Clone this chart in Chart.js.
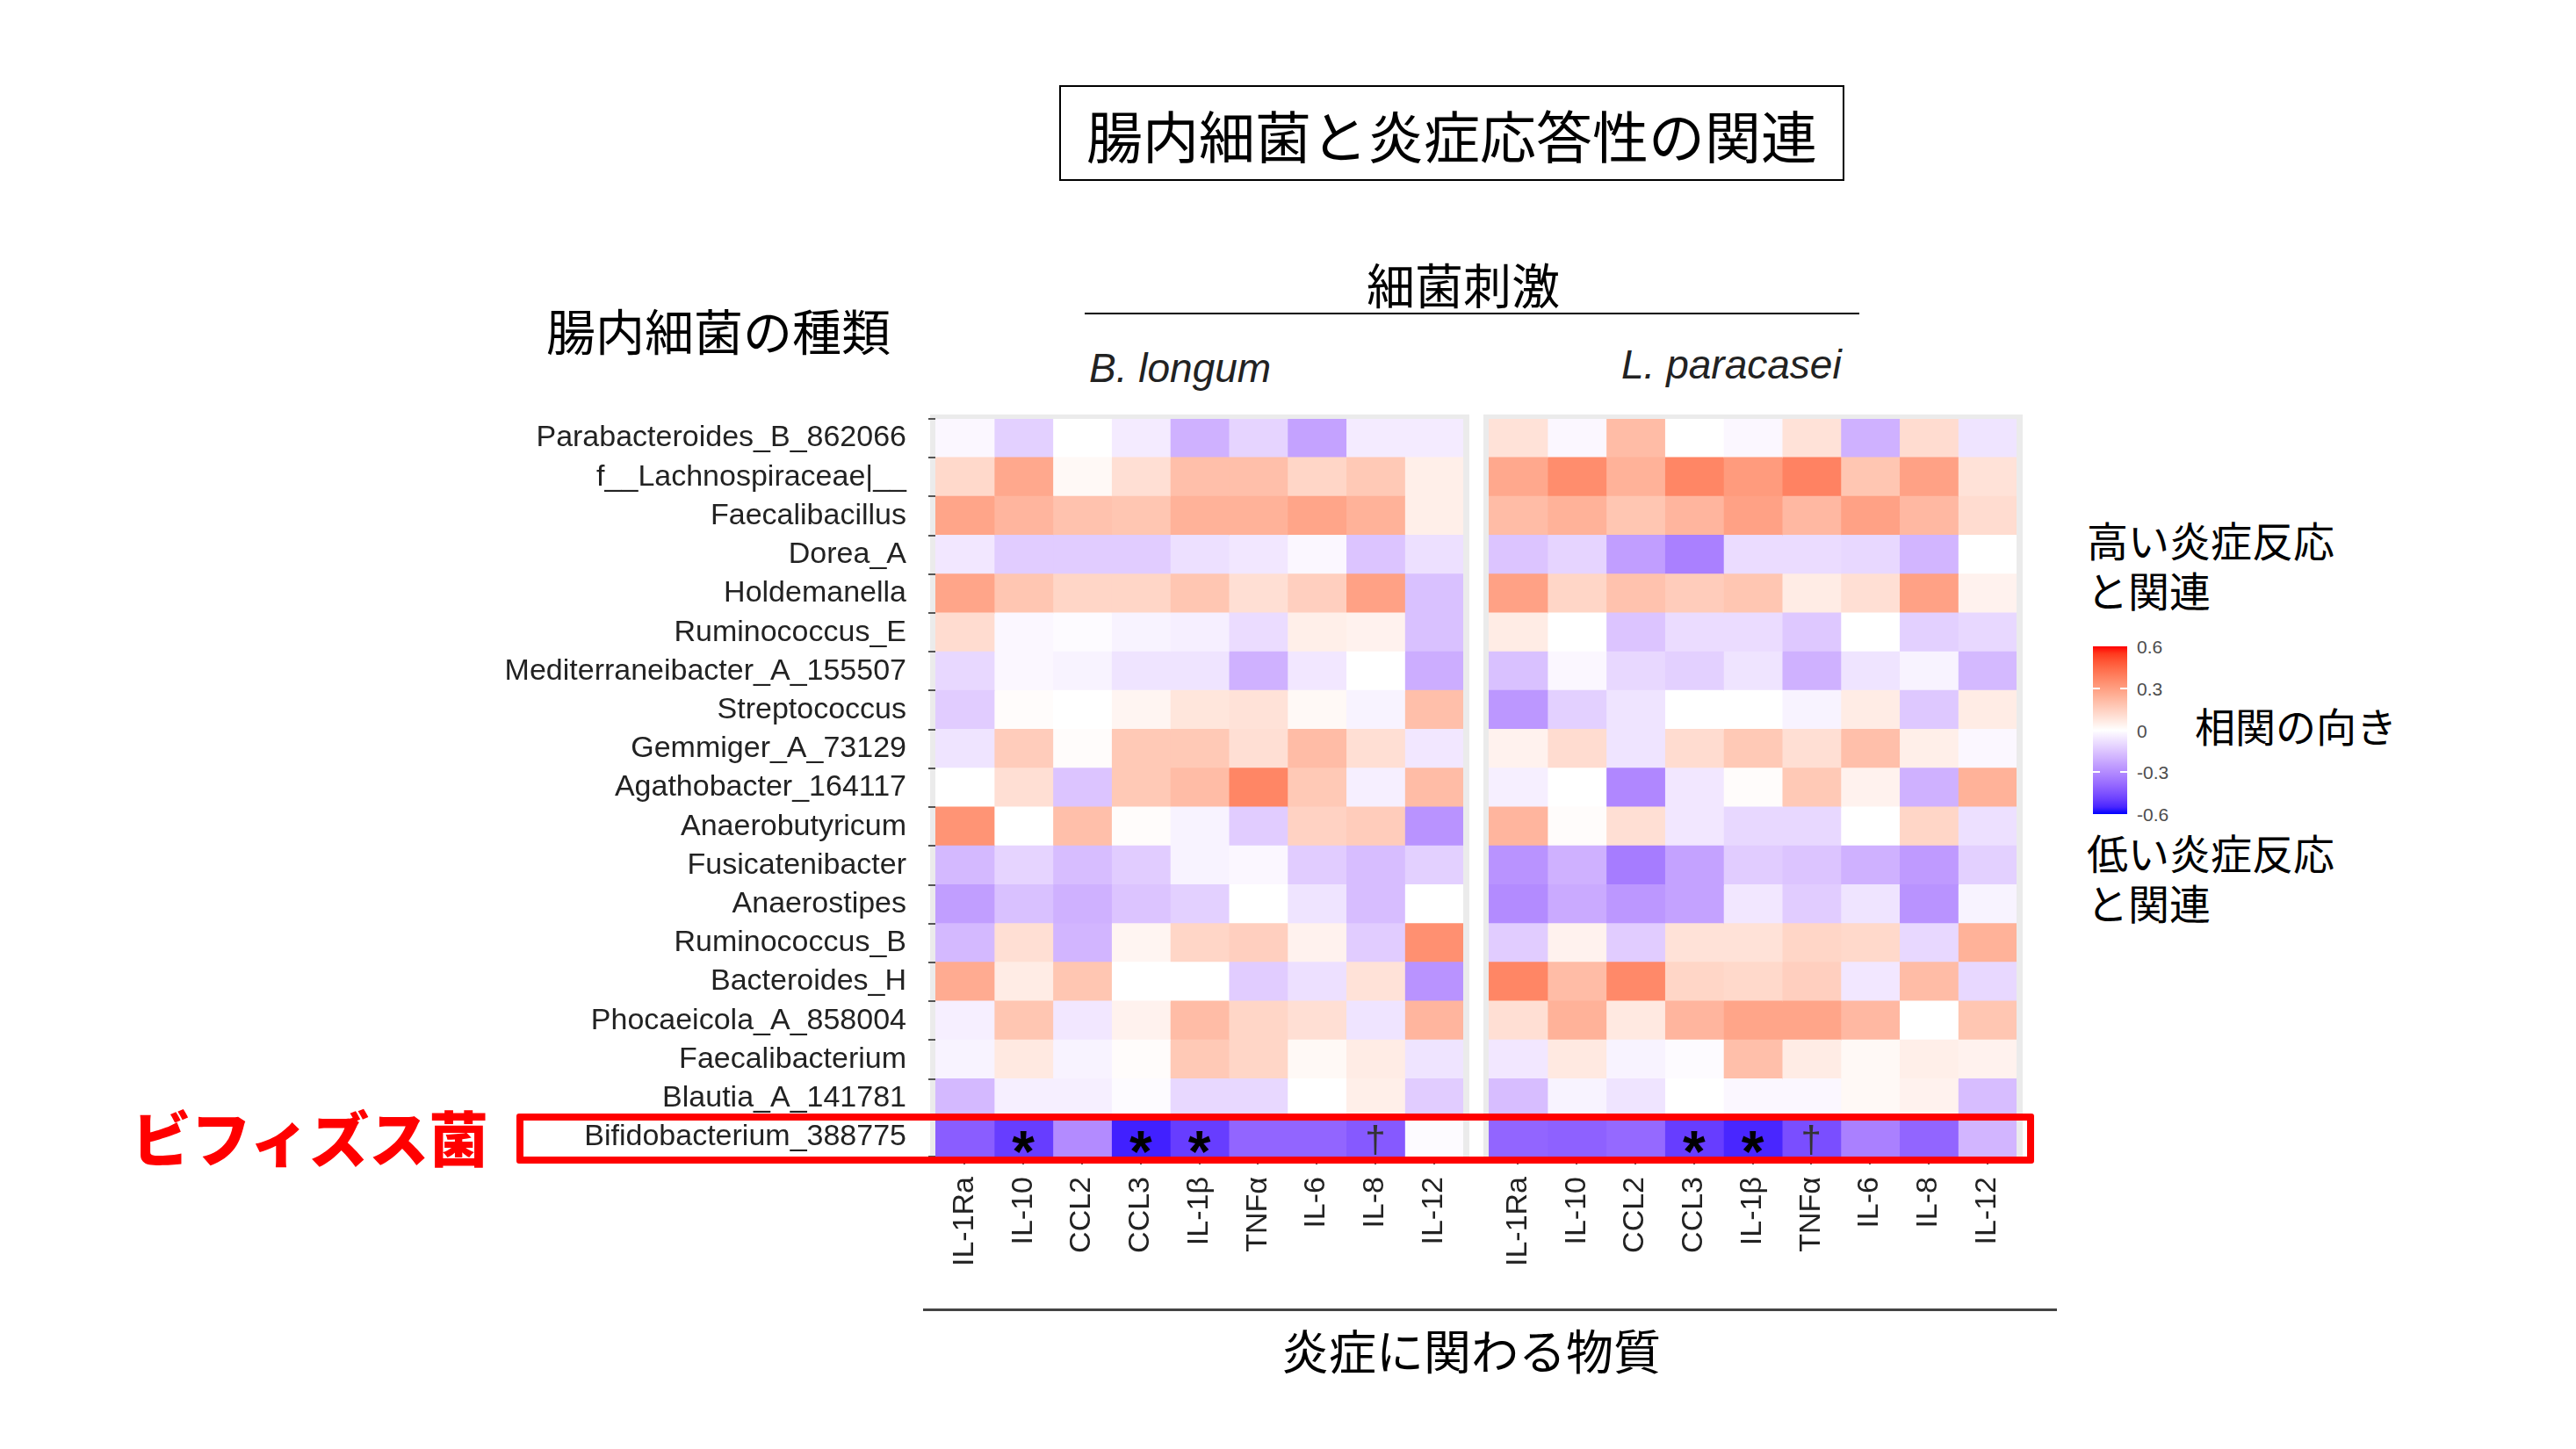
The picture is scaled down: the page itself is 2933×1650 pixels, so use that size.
<!DOCTYPE html>
<html lang="ja">
<head>
<meta charset="utf-8">
<title>腸内細菌と炎症応答性の関連</title>
<script src="https://cdn.jsdelivr.net/npm/chart.js@4.4.1/dist/chart.umd.min.js"></script>
<style>
  html, body { margin: 0; padding: 0; background: #fff; }
  #page { position: relative; width: 2933px; height: 1650px; overflow: hidden; background: #fff; }
  .jp { font-family: "Noto Sans CJK JP", "Noto Sans", sans-serif; color: #000; position: absolute; white-space: nowrap; line-height: 1; }
  .mid { transform: translate(-50%, -50%); }
  .lat { font-family: "Liberation Sans", Arial, sans-serif; position: absolute; white-space: nowrap; line-height: 1; }
  canvas { position: absolute; }
</style>
</head>
<body>
<div id="page">
  <div class="jp" style="left:1206px; top:97px; width:894px; height:109px; box-sizing:border-box; border:2px solid #000; display:flex; align-items:center; justify-content:center; font-size:64px;">腸内細菌と炎症応答性の関連</div>

  <div class="jp mid" style="left:1666px; top:322px; font-size:55px;">細菌刺激</div>
  <div style="position:absolute; left:1235px; top:356px; width:882px; height:2px; background:#000;"></div>
  <div class="jp mid" style="left:818px; top:375px; font-size:56px;">腸内細菌の種類</div>
  <div class="lat" style="left:1240px; top:419px; transform:translateY(-50%); font-size:46px; font-style:italic; color:#222;">B. longum</div>
  <div class="lat" style="left:1846px; top:415px; transform:translateY(-50%); font-size:46px; font-style:italic; color:#222;">L. paracasei</div>

  <canvas id="panelB" width="1130" height="1050" style="left:560px; top:440px;"></canvas>
  <canvas id="panelL" width="660" height="1050" style="left:1680px; top:440px;"></canvas>

  <div style="position:absolute; left:588px; top:1268px; width:1728px; height:57px; box-sizing:border-box; border:8px solid #ff0000; border-radius:3px;"></div>
  <div class="jp mid" style="left:353px; top:1294px; font-size:68px; font-weight:900; color:#ff0000;">ビフィズス菌</div>

  <div style="position:absolute; left:1051px; top:1490px; width:1291px; height:3px; background:#444;"></div>
  <div class="jp mid" style="left:1675px; top:1537px; font-size:54px;">炎症に関わる物質</div>

  <div class="jp" style="left:2376px; top:585px; font-size:47px; line-height:57px;">高い炎症反応<br>と関連</div>
  <div id="colorbar" style="position:absolute; left:2383px; top:736px; width:39px; height:191px;"></div>
  <div id="barTicks"></div>
  <div class="jp" style="left:2499px; top:825px; transform:translateY(-50%); font-size:46px;">相関の向き</div>
  <div class="jp" style="left:2376px; top:941px; font-size:47px; line-height:57px;">低い炎症反応<br>と関連</div>
</div>

<script>
// rows of the heatmap, top to bottom
const taxa = [
  'Parabacteroides_B_862066', 'f__Lachnospiraceae|__', 'Faecalibacillus', 'Dorea_A',
  'Holdemanella', 'Ruminococcus_E', 'Mediterraneibacter_A_155507', 'Streptococcus',
  'Gemmiger_A_73129', 'Agathobacter_164117', 'Anaerobutyricum', 'Fusicatenibacter',
  'Anaerostipes', 'Ruminococcus_B', 'Bacteroides_H', 'Phocaeicola_A_858004',
  'Faecalibacterium', 'Blautia_A_141781', 'Bifidobacterium_388775'
];
const cytokines = ['IL-1Ra', 'IL-10', 'CCL2', 'CCL3', 'IL-1β', 'TNFα', 'IL-6', 'IL-8', 'IL-12'];

// correlation values, one row per taxon (estimated from the figure)
const bLongum = [
  [-0.02, -0.12, 0.00, -0.05, -0.20, -0.11, -0.24, -0.05, -0.05],
  [0.12, 0.27, 0.02, 0.10, 0.20, 0.20, 0.13, 0.17, 0.05],
  [0.28, 0.23, 0.19, 0.18, 0.24, 0.24, 0.28, 0.24, 0.05],
  [-0.06, -0.13, -0.13, -0.13, -0.08, -0.06, -0.02, -0.15, -0.08],
  [0.28, 0.18, 0.13, 0.13, 0.18, 0.10, 0.15, 0.29, -0.16],
  [0.11, -0.02, -0.01, -0.03, -0.04, -0.09, 0.05, 0.04, -0.16],
  [-0.10, -0.02, -0.03, -0.07, -0.07, -0.20, -0.06, 0.00, -0.21],
  [-0.13, 0.01, 0.00, 0.03, 0.08, 0.09, 0.02, -0.03, 0.20],
  [-0.07, 0.16, 0.01, 0.17, 0.17, 0.10, 0.21, 0.10, -0.06],
  [0.00, 0.10, -0.15, 0.17, 0.21, 0.37, 0.17, -0.04, 0.21],
  [0.33, 0.00, 0.20, 0.01, -0.03, -0.13, 0.14, 0.16, -0.28],
  [-0.18, -0.11, -0.17, -0.13, -0.03, -0.02, -0.13, -0.17, -0.12],
  [-0.25, -0.16, -0.20, -0.15, -0.12, 0.00, -0.07, -0.17, 0.00],
  [-0.18, 0.10, -0.19, 0.03, 0.13, 0.15, 0.04, -0.13, 0.34],
  [0.26, 0.06, 0.18, 0.00, 0.00, -0.13, -0.08, 0.09, -0.28],
  [-0.04, 0.18, -0.06, 0.04, 0.21, 0.13, 0.10, -0.07, 0.23],
  [-0.03, 0.07, -0.03, 0.01, 0.17, 0.13, 0.02, 0.06, -0.07],
  [-0.18, -0.04, -0.04, -0.01, -0.10, -0.10, 0.00, 0.05, -0.13],
  [-0.42, -0.50, -0.30, -0.56, -0.50, -0.40, -0.40, -0.43, -0.01]
];
const lParacasei = [
  [0.09, -0.02, 0.21, 0.00, -0.02, 0.09, -0.20, 0.11, -0.07],
  [0.27, 0.35, 0.24, 0.37, 0.31, 0.38, 0.18, 0.29, 0.09],
  [0.21, 0.24, 0.18, 0.23, 0.29, 0.22, 0.29, 0.22, 0.11],
  [-0.15, -0.11, -0.25, -0.33, -0.09, -0.09, -0.10, -0.19, 0.00],
  [0.29, 0.13, 0.19, 0.16, 0.18, 0.06, 0.10, 0.29, 0.04],
  [0.06, 0.00, -0.15, -0.09, -0.09, -0.14, 0.00, -0.12, -0.10],
  [-0.16, -0.02, -0.10, -0.12, -0.07, -0.20, -0.07, -0.03, -0.18],
  [-0.27, -0.12, -0.07, 0.00, 0.00, -0.03, 0.06, -0.14, 0.06],
  [0.04, 0.11, -0.07, 0.11, 0.17, 0.10, 0.20, 0.05, -0.02],
  [-0.04, 0.00, -0.31, -0.06, 0.01, 0.17, 0.04, -0.20, 0.24],
  [0.23, 0.01, 0.10, -0.06, -0.10, -0.10, 0.00, 0.13, -0.08],
  [-0.28, -0.20, -0.34, -0.24, -0.13, -0.15, -0.20, -0.26, -0.12],
  [-0.30, -0.22, -0.27, -0.24, -0.06, -0.13, -0.07, -0.28, -0.03],
  [-0.13, 0.04, -0.13, 0.09, 0.09, 0.13, 0.12, -0.10, 0.24],
  [0.37, 0.21, 0.36, 0.13, 0.12, 0.15, -0.06, 0.21, -0.10],
  [0.10, 0.24, 0.07, 0.23, 0.28, 0.28, 0.22, 0.00, 0.18],
  [-0.06, 0.07, -0.03, -0.01, 0.20, 0.06, 0.02, 0.05, 0.04],
  [-0.17, -0.03, -0.07, 0.00, -0.02, -0.02, 0.02, 0.04, -0.17],
  [-0.40, -0.41, -0.39, -0.50, -0.55, -0.46, -0.33, -0.40, -0.19]
];

// significance marks on the Bifidobacterium row
const marksB = ['', '*', '', '*', '*', '', '', '†', ''];
const marksL = ['', '', '', '*', '*', '†', '', '', ''];

// colour bar ticks
const barTicks = [0.6, 0.3, 0, -0.3, -0.6];
const LIMIT = 0.6;

// blue - white - red, interpolated in CIELAB like ggplot's gradient2
function toLab(rgb) {
  const lin = rgb.map(c => { c /= 255; return c <= 0.04045 ? c / 12.92 : Math.pow((c + 0.055) / 1.055, 2.4); });
  const X = (0.4124564 * lin[0] + 0.3575761 * lin[1] + 0.1804375 * lin[2]) / 0.95047;
  const Y = 0.2126729 * lin[0] + 0.7151522 * lin[1] + 0.0721750 * lin[2];
  const Z = (0.0193339 * lin[0] + 0.1191920 * lin[1] + 0.9503041 * lin[2]) / 1.08883;
  const f = t => t > 0.008856 ? Math.cbrt(t) : 7.787 * t + 16 / 116;
  return [116 * f(Y) - 16, 500 * (f(X) - f(Y)), 200 * (f(Y) - f(Z))];
}
function fromLab([L, a, b]) {
  const fy = (L + 16) / 116, fx = fy + a / 500, fz = fy - b / 200;
  const inv = t => t * t * t > 0.008856 ? t * t * t : (t - 16 / 116) / 7.787;
  const X = 0.95047 * inv(fx), Y = inv(fy), Z = 1.08883 * inv(fz);
  const lin = [
    3.2404542 * X - 1.5371385 * Y - 0.4985314 * Z,
    -0.9692660 * X + 1.8760108 * Y + 0.0415560 * Z,
    0.0556434 * X - 0.2040259 * Y + 1.0572252 * Z
  ];
  return lin.map(c => {
    c = c <= 0.0031308 ? 12.92 * c : 1.055 * Math.pow(c, 1 / 2.4) - 0.055;
    return Math.round(Math.max(0, Math.min(1, c)) * 255);
  });
}
const LAB_MID = toLab([255, 255, 255]);
const LAB_HIGH = toLab([255, 0, 0]);
const LAB_LOW = toLab([0, 0, 255]);

function fillFor(v) {
  const t = Math.max(-1, Math.min(1, v / LIMIT));
  const end = t < 0 ? LAB_LOW : LAB_HIGH;
  const k = Math.abs(t);
  const rgb = fromLab(LAB_MID.map((m, i) => m + (end[i] - m) * k));
  return `rgb(${rgb[0]}, ${rgb[1]}, ${rgb[2]})`;
}

// grey panel behind the tiles
const panelBackdrop = {
  id: 'panelBackdrop',
  beforeDraw(chart) {
    const { ctx, chartArea: a } = chart;
    ctx.save();
    ctx.fillStyle = '#EBEBEB';
    ctx.fillRect(a.left - 6, a.top - 5, a.right - a.left + 13, a.bottom - a.top + 10);
    ctx.restore();
  }
};

// * and † on the last row
const sigMarks = {
  id: 'sigMarks',
  afterDatasetsDraw(chart, args, opts) {
    const { ctx, scales: { x, y } } = chart;
    const yc = y.getPixelForValue(taxa.length - 1);
    ctx.save();
    ctx.textAlign = 'center';
    ctx.textBaseline = 'alphabetic';
    opts.marks.forEach((m, c) => {
      if (!m) return;
      const xc = x.getPixelForValue(c + 0.5);
      if (m === '*') {
        ctx.font = 'bold 66px "Liberation Sans"';
        ctx.fillStyle = '#000';
        ctx.fillText(m, xc, yc + 39);
      } else {
        ctx.font = '42px "Liberation Sans"';
        ctx.fillStyle = '#333';
        ctx.fillText(m, xc, yc + 17);
      }
    });
    ctx.restore();
  }
};

const labelFont = { family: '"Liberation Sans", Arial, sans-serif', size: 34 };

function makePanel(id, values, marks, showTaxa, pad) {
  return new Chart(document.getElementById(id), {
    type: 'bar',
    data: {
      labels: taxa,
      datasets: cytokines.map((name, c) => ({
        label: name,
        data: taxa.map(() => [c, c + 1]),
        backgroundColor: values.map(row => fillFor(row[c])),
        borderWidth: 0,
        inflateAmount: 0.6,
        barPercentage: 1,
        categoryPercentage: 1,
        grouped: false
      }))
    },
    options: {
      indexAxis: 'y',
      responsive: false,
      animation: false,
      devicePixelRatio: 1,
      layout: { padding: pad },
      plugins: {
        legend: { display: false },
        tooltip: { enabled: false },
        sigMarks: { marks: marks }
      },
      scales: {
        x: {
          type: 'linear',
          min: 0,
          max: cytokines.length,
          afterBuildTicks: s => { s.ticks = cytokines.map((_, i) => ({ value: i + 0.5 })); },
          afterFit: s => { s.height = 173; s.paddingLeft = 0; s.paddingRight = 0; },
          ticks: {
            autoSkip: false,
            minRotation: 90,
            maxRotation: 90,
            padding: 14,
            color: '#222',
            font: labelFont,
            callback: (v, i) => cytokines[i]
          },
          grid: { drawOnChartArea: false, tickLength: 9, color: '#555', lineWidth: 2 },
          border: { display: false }
        },
        y: {
          type: 'category',
          display: showTaxa,
          afterFit: s => { s.width = showTaxa ? 505 : 0; s.paddingTop = 0; s.paddingBottom = 0; },
          ticks: { autoSkip: false, padding: 25, color: '#222', font: labelFont },
          grid: { drawOnChartArea: false, tickLength: 8, color: '#555', lineWidth: 2 },
          border: { display: false }
        }
      }
    },
    plugins: [panelBackdrop, sigMarks]
  });
}

makePanel('panelB', bLongum, marksB, true, { top: 37, right: 24, left: 0, bottom: 0 });
makePanel('panelL', lParacasei, marksL, false, { top: 37, right: 44, left: 15, bottom: 0 });

// colour bar legend
const bar = document.getElementById('colorbar');
const stops = [];
for (let v = LIMIT; v >= -LIMIT - 1e-9; v -= 0.05) {
  stops.push(`${fillFor(v)} ${((LIMIT - v) / (2 * LIMIT) * 100).toFixed(1)}%`);
}
bar.style.background = `linear-gradient(to bottom, ${stops.join(', ')})`;

const tickBox = document.getElementById('barTicks');
barTicks.forEach(v => {
  const y = 736 + (LIMIT - v) / (2 * LIMIT) * 191;
  const lab = document.createElement('div');
  lab.className = 'lat';
  lab.style.cssText = `left:2433px; top:${y}px; transform:translateY(-50%); font-size:21px; color:#4D4D4D;`;
  lab.textContent = String(v);
  tickBox.appendChild(lab);
  if (Math.abs(v) < LIMIT) {
    [2383, 2414].forEach(x => {
      const t = document.createElement('div');
      t.style.cssText = `position:absolute; left:${x}px; top:${y - 1}px; width:8px; height:2px; background:#fff;`;
      tickBox.appendChild(t);
    });
  }
});
</script>
</body>
</html>
